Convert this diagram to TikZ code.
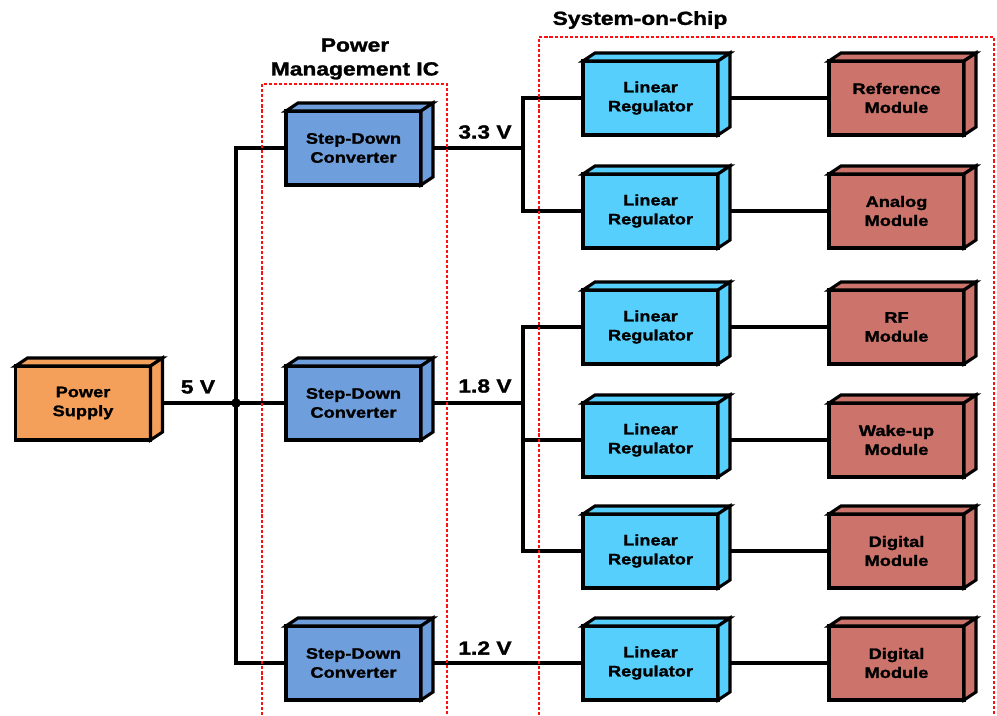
\documentclass[tikz,border=0pt]{standalone}
\usepackage{fontspec}
\setmainfont{Liberation Sans}[BoldFeatures={FakeStretch=1.2, FakeBold=1.5}]
\usetikzlibrary{backgrounds}
\definecolor{supply}{HTML}{F5A05A}
\definecolor{buck}{HTML}{6F9EDC}
\definecolor{ldo}{HTML}{56CFFD}
\definecolor{module}{HTML}{CC736B}
\definecolor{ink}{HTML}{000000}
\definecolor{fence}{HTML}{FF1010}
\tikzset{
  box/.style   = {rectangle, draw=ink, line width=2.2pt, outer sep=0pt,
                  minimum width=3.375cm, minimum height=1.85cm, align=center,
                  font=\fontsize{10.8}{13.5}\selectfont\bfseries},
  face/.style  = {draw=ink, line width=2.2pt},
  wire/.style  = {draw=ink, line width=2.2pt},
  fence/.style = {draw=fence, line width=1.4pt, dash pattern=on 2.2pt off 1.4pt},
  tag/.style   = {font=\fontsize{13.5}{17}\selectfont\bfseries, align=center},
}

\begin{document}
\begin{tikzpicture}[x=0.025cm, y=-0.025cm]
  \useasboundingbox (0,0) rectangle (997,715);

  % ----- enclosures -----
  \draw[fence] (262,715) -- (262,84) -- (447,84) -- (447,715);
  \draw[fence] (539,715) -- (539,37) -- (994,37) -- (994,715);
  \node[tag] (pmic) at (355,59) {Power\\Management IC};
  \node[tag] (soc) at (640,20) {System-on-Chip};

  % ----- supply and converters -----
  \node[box, fill=supply] (ps) at (83,403) {Power\\Supply};
  \foreach \i/\y in {1/148, 2/403, 3/663}
     {\node[box, fill=buck] (sd\i) at (353.5,\y) {Step-Down\\Converter};}

  % ----- regulators and modules -----
  \foreach \i/\y/\m in {1/98/Reference, 2/211/Analog, 3/327/RF,
                        4/440/Wake-up, 5/551/Digital, 6/663/Digital}
     {\node[box, fill=ldo] (lr\i) at (650.5,\y) {Linear\\Regulator};
      \node[box, fill=module] (md\i) at (896.5,\y) {\m\\Module};}

  % depth faces
  \foreach \n/\c in {ps/supply, sd1/buck, sd2/buck, sd3/buck,
                     lr1/ldo, lr2/ldo, lr3/ldo, lr4/ldo, lr5/ldo, lr6/ldo,
                     md1/module, md2/module, md3/module, md4/module, md5/module, md6/module}
     {\draw[face, fill=\c] (\n.north west) -- ++(12,-8) -- ([shift={(12,-8)}]\n.north east) -- (\n.north east) -- cycle;
      \draw[face, fill=\c] (\n.north east) -- ++(12,-8) -- ([shift={(12,-8)}]\n.south east) -- (\n.south east) -- cycle;}

  % ----- wiring -----
  \coordinate (j) at (236,403);
  \coordinate (b33) at (523,148);
  \coordinate (b18) at (523,403);
  \begin{scope}[on background layer]
    \draw[wire] (ps.east) -- (sd2.west);
    \draw[wire] (sd1.west) -| (j) |- (sd3.west);
    \draw[wire] (sd1.east) -- (b33);
    \draw[wire] (lr1.west) -| (b33) |- (lr2.west);
    \draw[wire] (sd2.east) -- (b18);
    \draw[wire] (lr3.west) -| (b18) |- (lr5.west);
    \draw[wire] (b18 |- lr4.west) -- (lr4.west);
    \draw[wire] (sd3.east) -- (lr6.west);
    \foreach \i in {1,...,6}
       {\draw[wire] (lr\i.east) -- (md\i.west);}
  \end{scope}
  \fill[ink] (j) circle (3.4pt);

  % voltage tags
  \node[tag] (v5) at (198,387) {5 V};
  \node[tag] (v33) at (485,132) {3.3 V};
  \node[tag] (v18) at (485,386) {1.8 V};
  \node[tag] (v12) at (485,648) {1.2 V};

\end{tikzpicture}
\end{document}
